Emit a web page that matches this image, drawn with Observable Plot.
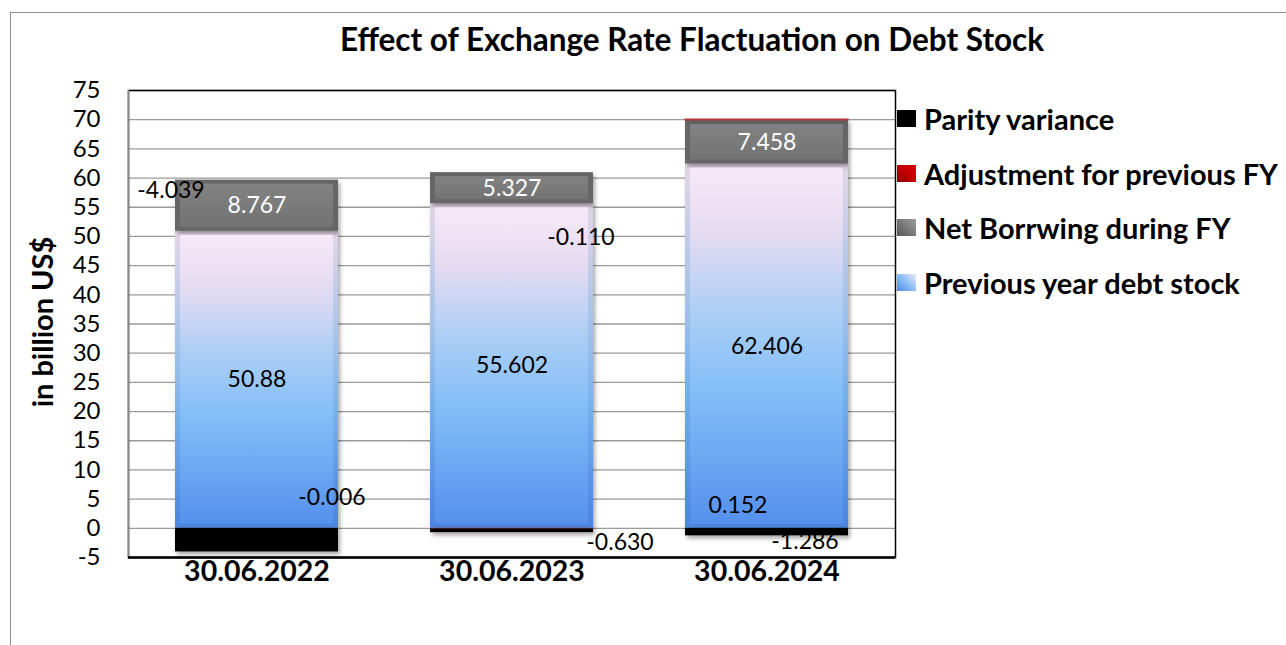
<!DOCTYPE html>
<html><head><meta charset="utf-8">
<script src="https://cdn.jsdelivr.net/npm/d3@7"></script>
<script src="https://cdn.jsdelivr.net/npm/@observablehq/plot@0.6"></script>
<style>
body{margin:0;background:#fff;font-family:Lato,"Open Sans",sans-serif;}
#wrap{position:relative;width:1286px;height:645px;overflow:hidden;background:#fff;}
#frame{position:absolute;left:10px;top:12px;width:1400px;height:700px;border:1.5px solid #8c8c8c;}
#title{position:absolute;left:0;width:1384px;top:19px;text-align:center;font-weight:700;font-size:31.5px;line-height:40px;color:#000;}
#ylab{position:absolute;left:42px;top:322px;transform:translate(-50%,-50%) rotate(-90deg);font-weight:700;font-size:29px;line-height:30px;white-space:nowrap;}
#legend{position:absolute;left:897px;top:91px;}
.li{display:flex;align-items:center;height:54.7px;font-weight:700;font-size:29px;white-space:nowrap;}
.sw{width:19px;height:17px;margin-right:8px;}
#chart{position:absolute;left:0;top:0;}
</style></head>
<body>
<div id="wrap">
  <div id="frame"></div>
  <div id="title">Effect of Exchange Rate Flactuation on Debt Stock</div>
  <div id="ylab">in billion US$</div>
  <div id="legend"></div>
  <div id="chart"></div>
</div>
<script>
// ---- data ----
const dates = ["30.06.2022", "30.06.2023", "30.06.2024"];
const seriesNames = ["Previous year debt stock", "Net Borrwing during FY", "Adjustment for previous FY", "Parity variance"];
const previousDebt = [50.88, 55.602, 62.406];
const netBorrowing = [8.767, 5.327, 7.458];
const adjustment = [-0.006, -0.110, 0.152];
const parityVariance = [-4.039, -0.630, -1.286];
const yTicks = [-5, 0, 5, 10, 15, 20, 25, 30, 35, 40, 45, 50, 55, 60, 65, 70, 75];
const legendOrder = ["Parity variance", "Adjustment for previous FY", "Net Borrwing during FY", "Previous year debt stock"];

// ---- build stacked table ----
const seriesValues = [previousDebt, netBorrowing, adjustment, parityVariance];
const rows = [];
dates.forEach((date, i) => {
  let pos = 0, neg = 0;
  seriesNames.forEach((s, k) => {
    const v = seriesValues[k][i];
    let y1, y2;
    if (v >= 0) { y1 = pos; y2 = pos + v; pos = y2; } else { y1 = neg; y2 = neg + v; neg = y2; }
    rows.push({date, series: s, value: v, y1, y2});
  });
});
const bySeries = s => rows.filter(r => r.series === s);
const one = (s, date) => rows.filter(r => r.series === s && r.date === date);
const f3 = d3.format(".3f");
const fmt = d => d.series === seriesNames[0] ? String(d.value) : f3(d.value).replace("−", "-");

const fills = {
  "Previous year debt stock": "url(#gPrev)",
  "Net Borrwing during FY": "url(#gNet)",
  "Adjustment for previous FY": "#c00000",
  "Parity variance": "#000000"
};
const outerFills = {
  "Previous year debt stock": "url(#gPrevEdge)",
  "Net Borrwing during FY": "#666666",
  "Adjustment for previous FY": "#b01010",
  "Parity variance": "#000000"
};

const IN = 46;
const shadow = "drop-shadow(2px 3px 2px rgba(0,0,0,0.35))";
const lblFont = {fontSize: 23, fontFamily: "Lato, 'Open Sans', sans-serif"};

const marks = [
  Plot.gridY(yTicks, {stroke: "#9a9a9a", strokeOpacity: 1, strokeWidth: 1.3}),
  ...seriesNames.map(s => Plot.barY(bySeries(s), {x: "date", y1: "y1", y2: "y2", fill: outerFills[s], insetLeft: IN, insetRight: IN, imageFilter: shadow})),
  ...seriesNames.slice(0, 2).map(s => Plot.barY(bySeries(s), {x: "date", y1: "y1", y2: "y2", fill: fills[s], insetLeft: IN + 5, insetRight: IN + 5, insetTop: 4, insetBottom: 4})),
  // thin positive adjustment outlined so it stays visible
  Plot.barY(bySeries("Adjustment for previous FY").filter(d => d.value > 0), {x: "date", y1: "y1", y2: "y2", fill: "#c0504d", stroke: "#b03a3a", strokeWidth: 1.2, insetLeft: IN, insetRight: IN}),
  Plot.frame({stroke: "#000", strokeWidth: 1.5}),
  Plot.frame({anchor: "left", stroke: "#8c8c8c", strokeWidth: 1.5}),
  Plot.ruleY([-5], {stroke: "#000", strokeWidth: 2.5}),
  Plot.axisY({ticks: yTicks, tickSize: 0, tickPadding: 28, label: null, fontSize: 24, tickFormat: d => String(d)}),
  Plot.axisX({tickSize: 0, tickPadding: 3, label: null, fontSize: 28.5, fontWeight: "bold"}),
  // centred labels
  Plot.text(bySeries(seriesNames[0]), {x: "date", y: d => (d.y1 + d.y2) / 2, text: fmt, fill: "#000", ...lblFont}),
  Plot.text(bySeries(seriesNames[1]), {x: "date", y: d => (d.y1 + d.y2) / 2, text: fmt, fill: "#fff", ...lblFont}),
  // offset labels (as placed in the source)
  Plot.text(one("Parity variance", dates[0]), {x: "date", y: 0, text: fmt, dx: -86, dy: -338, ...lblFont}),
  Plot.text(one("Adjustment for previous FY", dates[0]), {x: "date", y: 0, text: fmt, dx: 75, dy: -31, ...lblFont}),
  Plot.text(one("Adjustment for previous FY", dates[1]), {x: "date", y: 0, text: fmt, dx: 69, dy: -291, ...lblFont}),
  Plot.text(one("Parity variance", dates[1]), {x: "date", y: 0, text: fmt, dx: 108, dy: 14, ...lblFont}),
  Plot.text(one("Adjustment for previous FY", dates[2]), {x: "date", y: 0, text: fmt, dx: -29, dy: -23, ...lblFont}),
  Plot.text(one("Parity variance", dates[2]), {x: "date", y: 0, text: fmt, dx: 38, dy: 13, ...lblFont})
];

const chart = Plot.plot({
  width: 1286, height: 645,
  marginLeft: 128, marginRight: 391, marginTop: 90, marginBottom: 88,
  style: {fontFamily: "Lato, 'Open Sans', sans-serif", color: "#000", background: "transparent", overflow: "visible"},
  x: {domain: dates, padding: 0, label: null},
  y: {domain: [-5, 75], label: null},
  marks
});

const defs = `
<defs>
 <linearGradient id="gPrev" x1="0" y1="0" x2="0" y2="1">
  <stop offset="0" stop-color="#f6e8f6"/><stop offset="0.18" stop-color="#e6dcf2"/>
  <stop offset="0.42" stop-color="#a9cdf5"/><stop offset="0.62" stop-color="#85bff8"/>
  <stop offset="1" stop-color="#5590ed"/></linearGradient>
 <linearGradient id="gPrevEdge" x1="0" y1="0" x2="0" y2="1">
  <stop offset="0" stop-color="#e4d6e6"/><stop offset="0.42" stop-color="#9cc0ea"/>
  <stop offset="0.62" stop-color="#78b0ec"/><stop offset="1" stop-color="#4a84e0"/></linearGradient>
 <linearGradient id="gNet" x1="0" y1="0" x2="0" y2="1">
  <stop offset="0" stop-color="#828282"/><stop offset="1" stop-color="#737373"/></linearGradient>
</defs>`;
chart.insertAdjacentHTML("afterbegin", defs);
document.getElementById("chart").appendChild(chart);

// legend
const swatch = {
  "Parity variance": "#000",
  "Adjustment for previous FY": "linear-gradient(45deg,#8a0000 0%,#c00000 50%,#e00000 100%)",
  "Net Borrwing during FY": "linear-gradient(45deg,#555 0%,#7a7a7a 50%,#9a9a9a 100%)",
  "Previous year debt stock": "linear-gradient(45deg,#4a88e0 0%,#8cc0f5 50%,#f2e6f4 100%)"
};
const lg = d3.select("#legend");
legendOrder.forEach(s => {
  const it = lg.append("div").attr("class", "li");
  it.append("div").attr("class", "sw").style("background", swatch[s]);
  it.append("span").text(s);
});
</script>
</body></html>
